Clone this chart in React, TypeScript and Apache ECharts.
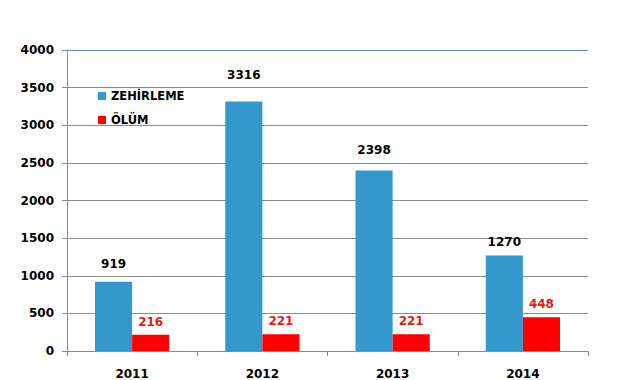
import React, { useEffect, useRef } from "react";
import * as echarts from "echarts";

const categories = ["2011", "2012", "2013", "2014"];
const zehirleme = [919, 3316, 2398, 1270];
const olum = [216, 221, 221, 448];
const yTicks = { min: 0, max: 4000, interval: 500 };
// label distance above each blue bar (style only)
const blueLabelDistance = [12, 20, 15, 7];

const FONT = "DejaVu Sans";

export default function App() {
  const ref = useRef<HTMLDivElement>(null);
  useEffect(() => {
    if (!ref.current) return;
    const chart = echarts.init(ref.current, null, { renderer: "svg" });
    const gridColors = ["#8c8c8c", "#8c8c8c", "#8c8c8c", "#8c8c8c", "#8c8c8c", "#8c8c8c", "#8c8c8c", "#8c8c8c", "#5b8fb5"];
    chart.setOption({
      animation: false,
      backgroundColor: "#ffffff",
      textStyle: { fontFamily: FONT },
      legend: {
        orient: "vertical",
        left: 93,
        top: 85,
        itemWidth: 8,
        itemHeight: 8,
        itemGap: 12,
        icon: "rect",
        textStyle: { fontFamily: FONT, fontWeight: "bold", fontSize: 11.5, color: "#000" },
        data: ["ZEHİRLEME", "ÖLÜM"],
      },
      grid: { left: 67, right: 39, top: 50, bottom: 26, containLabel: false },
      xAxis: {
        type: "category",
        data: categories,
        axisLine: { lineStyle: { color: "#8c8c8c", width: 1 } },
        axisTick: { show: true, length: 5, lineStyle: { color: "#8c8c8c" } },
        axisLabel: { fontFamily: FONT, fontWeight: "bold", fontSize: 12, color: "#000", margin: 17 },
      },
      yAxis: {
        type: "value",
        min: yTicks.min,
        max: yTicks.max,
        interval: yTicks.interval,
        axisLine: { show: true, lineStyle: { color: "#8c8c8c" } },
        axisTick: { show: true, length: 5, lineStyle: { color: "#8c8c8c" } },
        axisLabel: {
          fontFamily: FONT,
          fontWeight: "bold",
          fontSize: 12,
          color: "#000",
          margin: 13,
          formatter: (v: number) => String(v),
        },
        splitLine: { show: true, lineStyle: { color: gridColors, width: 1 } },
      },
      series: [
        {
          name: "ZEHİRLEME",
          type: "bar",
          barGap: "0%",
          barCategoryGap: "43%",
          itemStyle: { color: "#3399cc" },
          data: zehirleme.map((v, i) => ({
            value: v,
            label: {
              show: true,
              position: "top",
              distance: blueLabelDistance[i],
              fontFamily: FONT,
              fontWeight: "bold",
              fontSize: 12,
              color: "#000",
            },
          })),
        },
        {
          name: "ÖLÜM",
          type: "bar",
          barGap: "0%",
          barCategoryGap: "43%",
          itemStyle: { color: "#ff0000" },
          label: {
            show: true,
            position: "top",
            distance: 7,
            fontFamily: FONT,
            fontWeight: "bold",
            fontSize: 12,
            color: "#e3191c",
          },
          data: olum,
        },
      ],
    });
    return () => chart.dispose();
  }, []);
  return (
    <div
      ref={ref}
      style={{ position: "fixed", left: 0, top: 0, width: 627, height: 380, background: "#fff" }}
    />
  );
}
